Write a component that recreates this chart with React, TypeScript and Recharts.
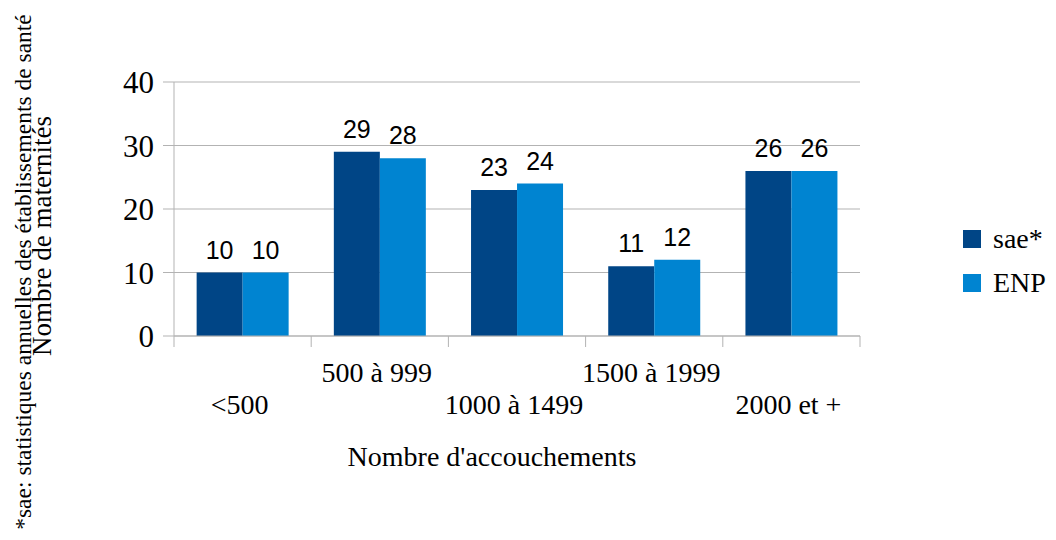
import React from "react";
import { BarChart, Bar, XAxis, YAxis, CartesianGrid, Legend, LabelList, Label } from "recharts";

const categories = ["<500", "500 à 999", "1000 à 1499", "1500 à 1999", "2000 et +"];
const saeValues = [10, 29, 23, 11, 26];
const enpValues = [10, 28, 24, 12, 26];
const yTicks = [0, 10, 20, 30, 40];

const data = categories.map((c, i) => ({ cat: c, sae: saeValues[i], enp: enpValues[i] }));

const SERIF = '"Liberation Serif", "Times New Roman", serif';
const SANS = '"Liberation Sans", Arial, sans-serif';
const DARK = "#004586";
const LIGHT = "#0084d1";
const GRID = "#b3b3b3";

const XTick = (props: any) => {
  const { x, y, payload, index } = props;
  const half = payload && typeof payload.offset === "number" && payload.offset > 0 ? payload.offset : 68.6;
  const isLast = index === categories.length - 1;
  return (
    <g>
      <line x1={x - half} x2={x - half} y1={y} y2={y + 11} stroke={GRID} strokeWidth={1} />
      {isLast && <line x1={x + half} x2={x + half} y1={y} y2={y + 11} stroke={GRID} strokeWidth={1} />}
      <text
        x={x - 3}
        y={y + (index % 2 === 0 ? 78 : 46)}
        textAnchor="middle"
        fontFamily={SERIF}
        fontSize={28}
        fill="#000"
      >
        {payload.value}
      </text>
    </g>
  );
};

const LegendContent = () => (
  <svg width={106} height={90}>
    <rect x={13} y={15} width={18} height={18} fill={DARK} />
    <text x={43} y={33} fontFamily={SERIF} fontSize={28} fill="#000">sae*</text>
    <rect x={13} y={59} width={18} height={18} fill={LIGHT} />
    <text x={43} y={77} fontFamily={SERIF} fontSize={28} fill="#000">ENP</text>
  </svg>
);

export default function App() {
  return (
    <div style={{ position: "absolute", left: 0, top: 0, width: 1056, height: 540, background: "#fff" }}>
      <BarChart
        width={1056}
        height={540}
        data={data}
        margin={{ top: 82, right: 196, bottom: 144, left: 114 }}
        barCategoryGap="16.5%"
        barGap={0}
      >
        <CartesianGrid vertical={false} stroke={GRID} />
        <XAxis
          dataKey="cat"
          height={60}
          axisLine={{ stroke: GRID }}
          tickLine={false}
          tickSize={0}
          tickMargin={0}
          interval={0}
          tick={<XTick />}
        >
          <Label
            content={() => (
              <text x={492} y={466} textAnchor="middle" fontFamily={SERIF} fontSize={28} fill="#000">
                Nombre d'accouchements
              </text>
            )}
          />
        </XAxis>
        <YAxis
          width={60}
          domain={[0, 40]}
          ticks={yTicks}
          axisLine={{ stroke: GRID }}
          tickLine={{ stroke: GRID }}
          tickSize={11}
          tickMargin={9}
          tick={{ fontFamily: SERIF, fontSize: 31, fill: "#000" }}
        >
          <Label
            content={() => (
              <text
                x={51}
                y={236}
                transform="rotate(-90 51 236)"
                textAnchor="middle"
                fontFamily={SERIF}
                fontSize={27}
                fill="#000"
              >
                Nombre de maternités
              </text>
            )}
          />
          <Label
            content={() => (
              <text
                x={31}
                y={272}
                transform="rotate(-90 31 272)"
                textAnchor="middle"
                fontFamily={SERIF}
                fontSize={23.5}
                fill="#000"
              >
                *sae: statistiques annuelles des établissements de santé
              </text>
            )}
          />
        </YAxis>
        <Legend
          layout="horizontal"
          verticalAlign="middle"
          align="center"
          wrapperStyle={{ left: 950, top: 215, width: 106, height: 90 }}
          content={<LegendContent />}
        />
        <Bar dataKey="sae" name="sae*" fill={DARK} isAnimationActive={false}>
          <LabelList dataKey="sae" position="top" offset={14} fontFamily={SANS} fontSize={25} fill="#000" />
        </Bar>
        <Bar dataKey="enp" name="ENP" fill={LIGHT} isAnimationActive={false}>
          <LabelList dataKey="enp" position="top" offset={14} fontFamily={SANS} fontSize={25} fill="#000" />
        </Bar>
      </BarChart>
    </div>
  );
}
